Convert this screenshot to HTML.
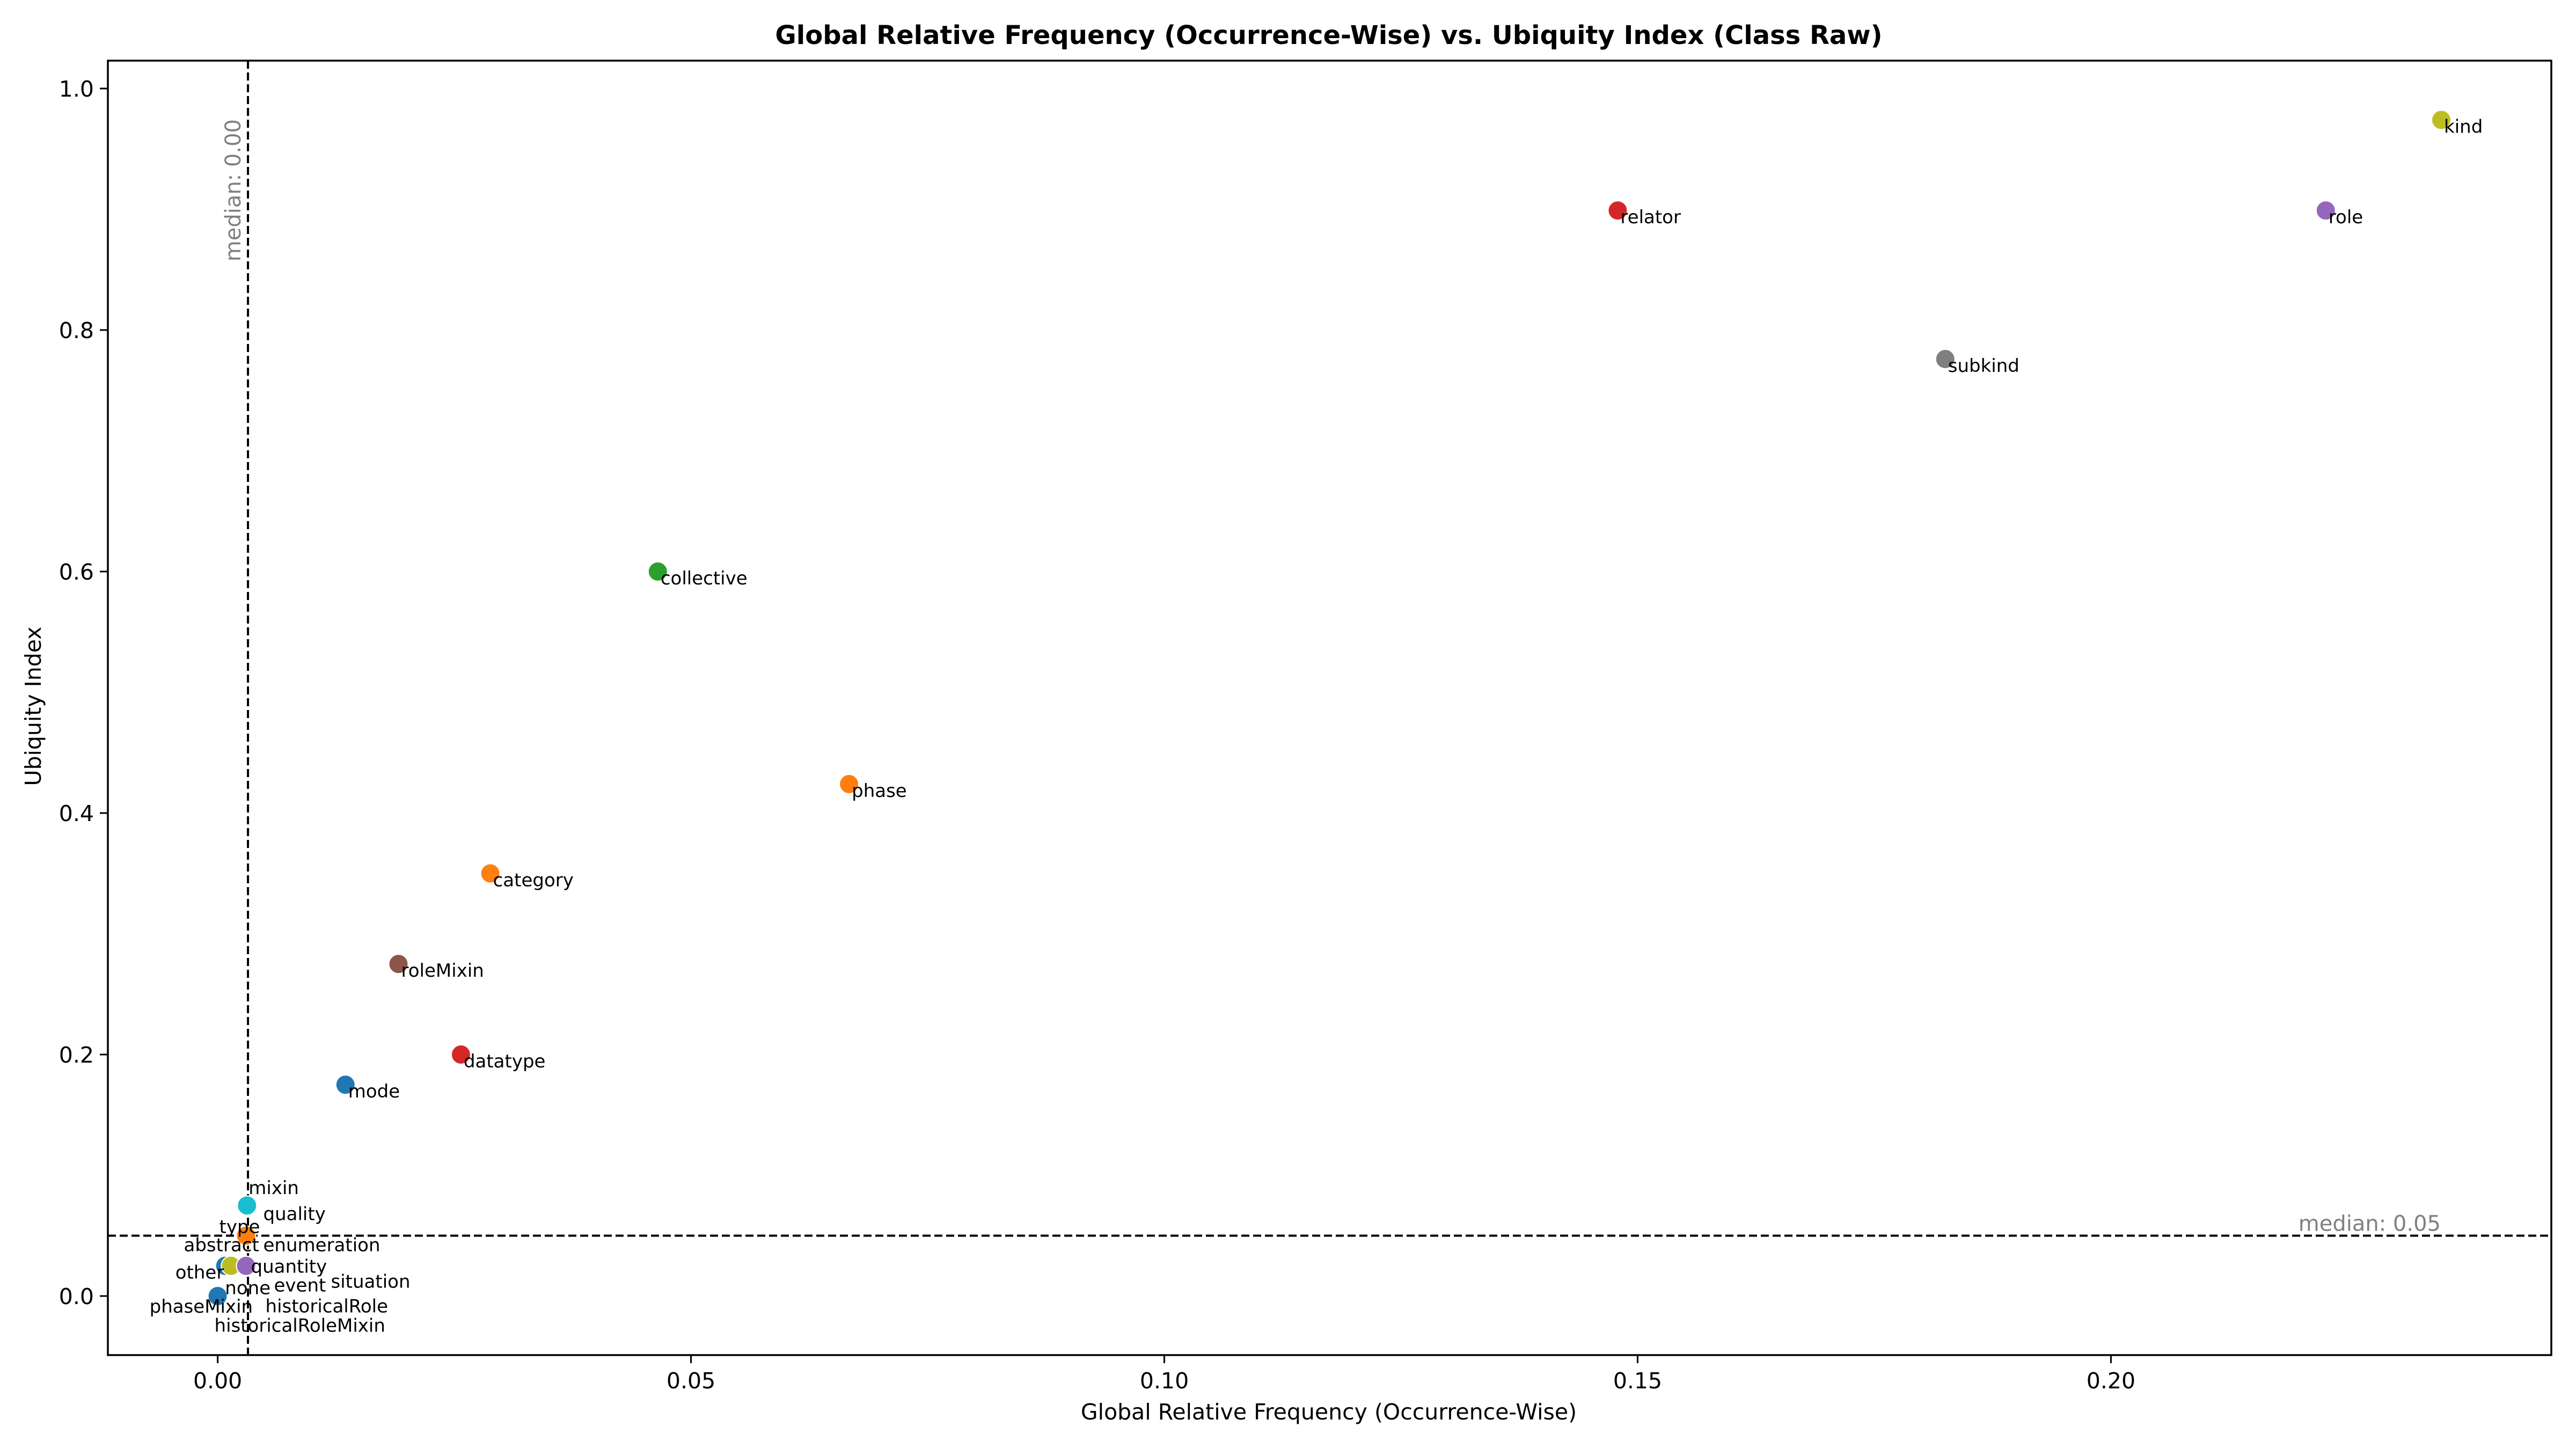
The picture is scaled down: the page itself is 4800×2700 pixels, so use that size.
<!DOCTYPE html>
<html><head><meta charset="utf-8">
<style>
html,body{margin:0;padding:0;background:#fff;}
svg{display:block;font-family:"DejaVu Sans","Liberation Sans",sans-serif;}
</style></head>
<body>
<svg id="chart" width="4800" height="2700" viewBox="0 0 4800 2700" xmlns="http://www.w3.org/2000/svg">
<rect x="0" y="0" width="4800" height="2700" fill="#fff"/>
<text x="2476" y="82" text-anchor="middle" font-size="48" font-weight="bold">Global Relative Frequency (Occurrence-Wise) vs. Ubiquity Index (Class Raw)</text>
<text x="2476" y="2645" text-anchor="middle" font-size="41">Global Relative Frequency (Occurrence-Wise)</text>
<text transform="translate(76,1316) rotate(-90)" text-anchor="middle" font-size="41">Ubiquity Index</text>
<g id="grid-layer"></g>
<g id="marks"></g>
<rect x="201" y="113" width="4553" height="2412" fill="none" stroke="#000" stroke-width="3.5"/>
</svg>
<script>
const labels = ["kind","relator","role","subkind","collective","phase","category","roleMixin","datatype","mode","mixin","quality","type","abstract","enumeration","other","quantity","none","event","situation","phaseMixin","historicalRole","historicalRoleMixin"];
const xValues = [0.2349,0.1479,0.2227,0.1825,0.0465,0.0667,0.0288,0.0191,0.0257,0.0135,0.0031,0.0030,0.0030,0.0030,0.0030,0.0008,0.0030,0.0014,0.0030,0.0030,0.0000,0.0030,0.0030];
const yValues = [0.974,0.899,0.899,0.776,0.600,0.424,0.350,0.275,0.200,0.175,0.075,0.050,0.050,0.050,0.050,0.025,0.025,0.025,0.025,0.025,0.000,0.025,0.025];
const colors = ["#bcbd22","#d62728","#9467bd","#7f7f7f","#2ca02c","#ff7f0e","#ff7f0e","#8c564b","#d62728","#1f77b4","#17becf","#ff7f0e","#ff7f0e","#ff7f0e","#ff7f0e","#1f77b4","#9467bd","#bcbd22","#ff7f0e","#ff7f0e","#1f77b4","#9467bd","#9467bd"];
const labelDx = [5,5,5,5,5,5,5,5,5,5,3,32,-50,-116,32,-93,9,-11,52,158,-127,36,-59];
const labelDy = [24,24,24,24,24,24,24,24,24,24,-21,-29,-5,29,29,24,13,53,48,41,31,87,123];
const xTicks = [0,0.05,0.10,0.15,0.20];
const xTickLabels = ["0.00","0.05","0.10","0.15","0.20"];
const yTicks = [0,0.2,0.4,0.6,0.8,1.0];
const yTickLabels = ["0.0","0.2","0.4","0.6","0.8","1.0"];
const medianX = 0.0032;
const medianY = 0.05;
const medianXLabel = "median: 0.00";
const medianYLabel = "median: 0.05";

const X0=201,X1=4754,Y0=113,Y1=2525;
const xMin=-0.01160,xMax=0.24652,yMin=-0.0489,yMax=1.0231;
function sx(v){return X0+(v-xMin)/(xMax-xMin)*(X1-X0);}
function sy(v){return Y1-(v-yMin)/(yMax-yMin)*(Y1-Y0);}
const NS="http://www.w3.org/2000/svg";
const svg=document.getElementById('chart');
const marks=document.getElementById('marks');
const grid=document.getElementById('grid-layer');
function mk(tag,attrs,parent){const e=document.createElementNS(NS,tag);for(const k in attrs)e.setAttribute(k,attrs[k]);parent.appendChild(e);return e;}

xTicks.forEach((t,i)=>{
  const x=sx(t);
  const l=mk('line',{x1:x,x2:x,y1:Y1,y2:Y1+15,stroke:'#000','stroke-width':3},svg);
  
  
  const tx=mk('text',{x:x,y:Y1+62,'text-anchor':'middle','font-size':41},svg);
  tx.textContent=xTickLabels[i];
  
  
});
yTicks.forEach((t,i)=>{
  const y=sy(t);
  const l=mk('line',{x1:X0-15,x2:X0,y1:y,y2:y,stroke:'#000','stroke-width':3},svg);
  
  
  const tx=mk('text',{x:X0-26,y:y+15,'text-anchor':'end','font-size':41},svg);
  tx.textContent=yTickLabels[i];
  
  
});

const mxp=sx(medianX), myp=sy(medianY);
const vl=mk('line',{x1:mxp,x2:mxp,y1:Y0,y2:Y1,stroke:'#000','stroke-width':4,'stroke-dasharray':'15,7'},grid);


const hl=mk('line',{x1:X0,x2:X1,y1:myp,y2:myp,stroke:'#000','stroke-width':4,'stroke-dasharray':'15,7'},grid);


const vt=mk('text',{transform:`translate(${mxp-14},222) rotate(-90)`,'text-anchor':'end','font-size':40,fill:'#808080'},grid);
vt.textContent=medianXLabel;


const ht=mk('text',{x:4548,y:myp-9,'text-anchor':'end','font-size':40,fill:'#808080'},grid);
ht.textContent=medianYLabel;



labels.forEach((name,i)=>{
  const cx=sx(xValues[i]), cy=sy(yValues[i]);
  const c=mk('circle',{cx:cx,cy:cy,r:18,fill:colors[i],stroke:'#fff','stroke-width':2},marks);
  
  
});
labels.forEach((name,i)=>{
  const cx=sx(xValues[i]), cy=sy(yValues[i]);
  const t=mk('text',{x:cx+labelDx[i],y:cy+labelDy[i],'font-size':34},marks);
  t.textContent=name;
  
  
});
</script>
</body></html>
